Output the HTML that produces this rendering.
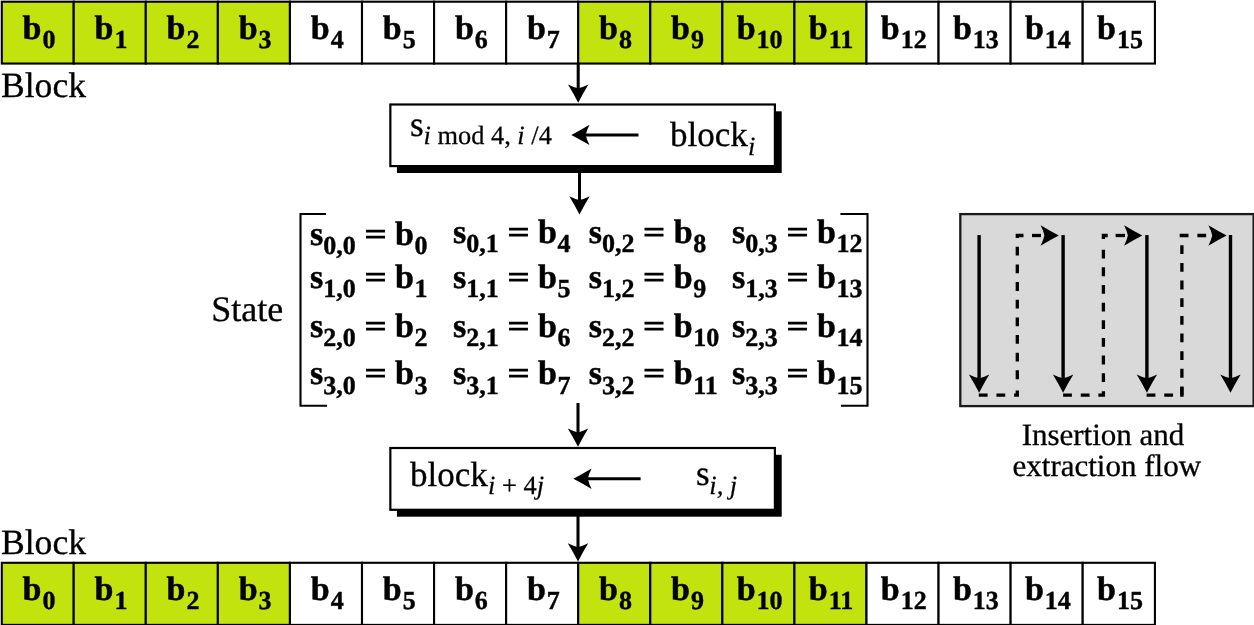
<!DOCTYPE html>
<html><head><meta charset="utf-8"><title>Block to State</title>
<style>
html,body{margin:0;padding:0;background:#fff;}
body{width:1254px;height:625px;overflow:hidden;}
svg{display:block;will-change:transform;}
text{font-family:"Liberation Serif",serif;fill:#000;text-rendering:geometricPrecision;}
.b{font-weight:bold;font-size:34px;stroke:#000;stroke-width:0.5px;}
.bs{font-weight:bold;font-size:26px;stroke:#000;stroke-width:0.4px;}
.eq{font-weight:bold;font-size:30px;stroke:#000;stroke-width:0.7px;}
.r{font-size:36px;stroke:#000;stroke-width:0.3px;}
.r5{font-size:35px;stroke:#000;stroke-width:0.3px;}
.rs{font-size:26.4px;stroke:#000;stroke-width:0.25px;}
.cap{font-size:31px;text-anchor:middle;stroke:#000;stroke-width:0.3px;}
.i{font-style:italic;}
</style></head><body>
<svg width="1254" height="625" viewBox="0 0 1254 625">
<rect x="0" y="0" width="1254" height="625" fill="#fff"/>
<g stroke="#000" stroke-width="2.1">
<rect x="1.80" y="1.7" width="71.92" height="61.85" fill="#c3e30f"/>
<rect x="73.72" y="1.7" width="72.07" height="61.85" fill="#c3e30f"/>
<rect x="145.79" y="1.7" width="72.07" height="61.85" fill="#c3e30f"/>
<rect x="217.86" y="1.7" width="72.07" height="61.85" fill="#c3e30f"/>
<rect x="289.93" y="1.7" width="72.07" height="61.85" fill="#fff"/>
<rect x="362.00" y="1.7" width="72.07" height="61.85" fill="#fff"/>
<rect x="434.07" y="1.7" width="72.07" height="61.85" fill="#fff"/>
<rect x="506.14" y="1.7" width="72.07" height="61.85" fill="#fff"/>
<rect x="578.21" y="1.7" width="72.07" height="61.85" fill="#c3e30f"/>
<rect x="650.28" y="1.7" width="72.07" height="61.85" fill="#c3e30f"/>
<rect x="722.35" y="1.7" width="72.07" height="61.85" fill="#c3e30f"/>
<rect x="794.42" y="1.7" width="72.07" height="61.85" fill="#c3e30f"/>
<rect x="866.49" y="1.7" width="72.07" height="61.85" fill="#fff"/>
<rect x="938.56" y="1.7" width="72.07" height="61.85" fill="#fff"/>
<rect x="1010.63" y="1.7" width="72.07" height="61.85" fill="#fff"/>
<rect x="1082.70" y="1.7" width="72.22" height="61.85" fill="#fff"/>
</g>
<text x="22.48" y="39.3" class="b">b</text><text x="42.38" y="48.20" class="bs">0</text>
<text x="94.55" y="39.3" class="b">b</text><text x="114.45" y="48.20" class="bs">1</text>
<text x="166.62" y="39.3" class="b">b</text><text x="186.53" y="48.20" class="bs">2</text>
<text x="238.69" y="39.3" class="b">b</text><text x="258.59" y="48.20" class="bs">3</text>
<text x="310.77" y="39.3" class="b">b</text><text x="330.67" y="48.20" class="bs">4</text>
<text x="382.83" y="39.3" class="b">b</text><text x="402.73" y="48.20" class="bs">5</text>
<text x="454.91" y="39.3" class="b">b</text><text x="474.81" y="48.20" class="bs">6</text>
<text x="526.97" y="39.3" class="b">b</text><text x="546.87" y="48.20" class="bs">7</text>
<text x="599.04" y="39.3" class="b">b</text><text x="618.94" y="48.20" class="bs">8</text>
<text x="671.11" y="39.3" class="b">b</text><text x="691.01" y="48.20" class="bs">9</text>
<text x="736.68" y="39.3" class="b">b</text><text x="756.58" y="48.20" class="bs">10</text>
<text x="808.75" y="39.3" class="b">b</text><text x="828.65" y="48.20" class="bs">11</text>
<text x="880.82" y="39.3" class="b">b</text><text x="900.72" y="48.20" class="bs">12</text>
<text x="952.89" y="39.3" class="b">b</text><text x="972.79" y="48.20" class="bs">13</text>
<text x="1024.96" y="39.3" class="b">b</text><text x="1044.86" y="48.20" class="bs">14</text>
<text x="1097.03" y="39.3" class="b">b</text><text x="1116.93" y="48.20" class="bs">15</text>
<g stroke="#000" stroke-width="2.1">
<rect x="1.80" y="562.8" width="71.92" height="62.10" fill="#c3e30f"/>
<rect x="73.72" y="562.8" width="72.07" height="62.10" fill="#c3e30f"/>
<rect x="145.79" y="562.8" width="72.07" height="62.10" fill="#c3e30f"/>
<rect x="217.86" y="562.8" width="72.07" height="62.10" fill="#c3e30f"/>
<rect x="289.93" y="562.8" width="72.07" height="62.10" fill="#fff"/>
<rect x="362.00" y="562.8" width="72.07" height="62.10" fill="#fff"/>
<rect x="434.07" y="562.8" width="72.07" height="62.10" fill="#fff"/>
<rect x="506.14" y="562.8" width="72.07" height="62.10" fill="#fff"/>
<rect x="578.21" y="562.8" width="72.07" height="62.10" fill="#c3e30f"/>
<rect x="650.28" y="562.8" width="72.07" height="62.10" fill="#c3e30f"/>
<rect x="722.35" y="562.8" width="72.07" height="62.10" fill="#c3e30f"/>
<rect x="794.42" y="562.8" width="72.07" height="62.10" fill="#c3e30f"/>
<rect x="866.49" y="562.8" width="72.07" height="62.10" fill="#fff"/>
<rect x="938.56" y="562.8" width="72.07" height="62.10" fill="#fff"/>
<rect x="1010.63" y="562.8" width="72.07" height="62.10" fill="#fff"/>
<rect x="1082.70" y="562.8" width="72.22" height="62.10" fill="#fff"/>
</g>
<text x="22.48" y="600.3" class="b">b</text><text x="42.38" y="609.20" class="bs">0</text>
<text x="94.55" y="600.3" class="b">b</text><text x="114.45" y="609.20" class="bs">1</text>
<text x="166.62" y="600.3" class="b">b</text><text x="186.53" y="609.20" class="bs">2</text>
<text x="238.69" y="600.3" class="b">b</text><text x="258.59" y="609.20" class="bs">3</text>
<text x="310.77" y="600.3" class="b">b</text><text x="330.67" y="609.20" class="bs">4</text>
<text x="382.83" y="600.3" class="b">b</text><text x="402.73" y="609.20" class="bs">5</text>
<text x="454.91" y="600.3" class="b">b</text><text x="474.81" y="609.20" class="bs">6</text>
<text x="526.97" y="600.3" class="b">b</text><text x="546.87" y="609.20" class="bs">7</text>
<text x="599.04" y="600.3" class="b">b</text><text x="618.94" y="609.20" class="bs">8</text>
<text x="671.11" y="600.3" class="b">b</text><text x="691.01" y="609.20" class="bs">9</text>
<text x="736.68" y="600.3" class="b">b</text><text x="756.58" y="609.20" class="bs">10</text>
<text x="808.75" y="600.3" class="b">b</text><text x="828.65" y="609.20" class="bs">11</text>
<text x="880.82" y="600.3" class="b">b</text><text x="900.72" y="609.20" class="bs">12</text>
<text x="952.89" y="600.3" class="b">b</text><text x="972.79" y="609.20" class="bs">13</text>
<text x="1024.96" y="600.3" class="b">b</text><text x="1044.86" y="609.20" class="bs">14</text>
<text x="1097.03" y="600.3" class="b">b</text><text x="1116.93" y="609.20" class="bs">15</text>
<text x="1" y="97.3" class="r" style="font-size:35.6px">Block</text>
<text x="1" y="554" class="r" style="font-size:35.6px">Block</text>
<line x1="578.20" y1="63.00" x2="578.20" y2="89.30" stroke="#000" stroke-width="3.05"/>
<path d="M578.20,102.70 Q582.89,93.60 588.40,84.50 Q582.79,87.35 578.20,88.30 Q573.61,87.35 568.00,84.50 Q573.51,93.60 578.20,102.70 Z" fill="#000"/>
<rect x="396.95" y="111.30" width="384.75" height="61.70" fill="#000"/>
<rect x="390.35" y="104.5" width="384.55" height="61.60" fill="#fff" stroke="#000" stroke-width="2.2"/>
<line x1="579.50" y1="172.00" x2="579.50" y2="201.00" stroke="#000" stroke-width="3.05"/>
<path d="M579.50,214.40 Q584.19,205.30 589.70,196.20 Q584.09,199.05 579.50,200.00 Q574.91,199.05 569.30,196.20 Q574.81,205.30 579.50,214.40 Z" fill="#000"/>
<line x1="578.00" y1="403.00" x2="578.00" y2="433.40" stroke="#000" stroke-width="3.05"/>
<path d="M578.00,446.80 Q582.69,437.70 588.20,428.60 Q582.59,431.45 578.00,432.40 Q573.41,431.45 567.80,428.60 Q573.31,437.70 578.00,446.80 Z" fill="#000"/>
<rect x="396.95" y="454.80" width="384.75" height="61.90" fill="#000"/>
<rect x="390.35" y="448.0" width="384.55" height="61.80" fill="#fff" stroke="#000" stroke-width="2.2"/>
<line x1="578.00" y1="516.00" x2="578.00" y2="548.10" stroke="#000" stroke-width="3.05"/>
<path d="M578.00,561.50 Q582.69,552.40 588.20,543.30 Q582.59,546.15 578.00,547.10 Q573.41,546.15 567.80,543.30 Q573.31,552.40 578.00,561.50 Z" fill="#000"/>
<text x="410" y="135.5" class="r5">s</text><text x="423.5" y="144.4" class="rs"><tspan class="i">i</tspan> mod 4, <tspan class="i">i</tspan> /4</text>
<line x1="638.50" y1="134.90" x2="584.70" y2="134.90" stroke="#000" stroke-width="3.05"/>
<path d="M571.30,134.90 Q580.40,139.59 589.50,145.10 Q586.65,139.49 585.70,134.90 Q586.65,130.31 589.50,124.70 Q580.40,130.21 571.30,134.90 Z" fill="#000"/>
<text x="670" y="145.5" class="r5">block</text><text x="748" y="155" class="rs i">i</text>
<text x="410" y="485.6" class="r5">block</text><text x="488" y="494.3" class="rs"><tspan class="i">i</tspan> + 4<tspan class="i">j</tspan></text>
<line x1="640.60" y1="478.70" x2="586.80" y2="478.70" stroke="#000" stroke-width="3.05"/>
<path d="M573.40,478.70 Q582.50,483.39 591.60,488.90 Q588.75,483.29 587.80,478.70 Q588.75,474.11 591.60,468.50 Q582.50,474.01 573.40,478.70 Z" fill="#000"/>
<text x="696" y="485.4" class="r5">s</text><text x="709.3" y="494.3" class="rs i">i, j</text>
<text x="211.2" y="321" class="r">State</text>
<path d="M326,214 H300.5 V405.8 H327" fill="none" stroke="#000" stroke-width="2.1"/>
<path d="M840.4,214 H867.5 V405.8 H841" fill="none" stroke="#000" stroke-width="2.1"/>
<text x="310" y="245" class="b">s</text><text x="323.2" y="254.2" class="bs">0,0</text><text transform="translate(364.4,243.9) scale(1.3,1)" class="eq">=</text><text x="395.0" y="245" class="b">b</text><text x="414.5" y="254.2" class="bs">0</text>
<text x="453" y="242.6" class="b">s</text><text x="466.2" y="251.8" class="bs">0,1</text><text transform="translate(507.4,241.5) scale(1.3,1)" class="eq">=</text><text x="538.0" y="242.6" class="b">b</text><text x="557.5" y="251.8" class="bs">4</text>
<text x="588.7" y="242.6" class="b">s</text><text x="601.9" y="251.8" class="bs">0,2</text><text transform="translate(643.1,241.5) scale(1.3,1)" class="eq">=</text><text x="673.7" y="242.6" class="b">b</text><text x="693.2" y="251.8" class="bs">8</text>
<text x="732" y="242.6" class="b">s</text><text x="745.2" y="251.8" class="bs">0,3</text><text transform="translate(786.4,241.5) scale(1.3,1)" class="eq">=</text><text x="817.0" y="242.6" class="b">b</text><text x="836.5" y="251.8" class="bs">12</text>
<text x="310" y="288.2" class="b">s</text><text x="323.2" y="297.4" class="bs">1,0</text><text transform="translate(364.4,287.1) scale(1.3,1)" class="eq">=</text><text x="395.0" y="288.2" class="b">b</text><text x="414.5" y="297.4" class="bs">1</text>
<text x="453" y="288.2" class="b">s</text><text x="466.2" y="297.4" class="bs">1,1</text><text transform="translate(507.4,287.1) scale(1.3,1)" class="eq">=</text><text x="538.0" y="288.2" class="b">b</text><text x="557.5" y="297.4" class="bs">5</text>
<text x="588.7" y="288.2" class="b">s</text><text x="601.9" y="297.4" class="bs">1,2</text><text transform="translate(643.1,287.1) scale(1.3,1)" class="eq">=</text><text x="673.7" y="288.2" class="b">b</text><text x="693.2" y="297.4" class="bs">9</text>
<text x="732" y="288.2" class="b">s</text><text x="745.2" y="297.4" class="bs">1,3</text><text transform="translate(786.4,287.1) scale(1.3,1)" class="eq">=</text><text x="817.0" y="288.2" class="b">b</text><text x="836.5" y="297.4" class="bs">13</text>
<text x="310" y="336.6" class="b">s</text><text x="323.2" y="345.8" class="bs">2,0</text><text transform="translate(364.4,335.5) scale(1.3,1)" class="eq">=</text><text x="395.0" y="336.6" class="b">b</text><text x="414.5" y="345.8" class="bs">2</text>
<text x="453" y="336.6" class="b">s</text><text x="466.2" y="345.8" class="bs">2,1</text><text transform="translate(507.4,335.5) scale(1.3,1)" class="eq">=</text><text x="538.0" y="336.6" class="b">b</text><text x="557.5" y="345.8" class="bs">6</text>
<text x="588.7" y="336.6" class="b">s</text><text x="601.9" y="345.8" class="bs">2,2</text><text transform="translate(643.1,335.5) scale(1.3,1)" class="eq">=</text><text x="673.7" y="336.6" class="b">b</text><text x="693.2" y="345.8" class="bs">10</text>
<text x="732" y="336.6" class="b">s</text><text x="745.2" y="345.8" class="bs">2,3</text><text transform="translate(786.4,335.5) scale(1.3,1)" class="eq">=</text><text x="817.0" y="336.6" class="b">b</text><text x="836.5" y="345.8" class="bs">14</text>
<text x="310" y="384.4" class="b">s</text><text x="323.2" y="393.6" class="bs">3,0</text><text transform="translate(364.4,383.3) scale(1.3,1)" class="eq">=</text><text x="395.0" y="384.4" class="b">b</text><text x="414.5" y="393.6" class="bs">3</text>
<text x="453" y="384.4" class="b">s</text><text x="466.2" y="393.6" class="bs">3,1</text><text transform="translate(507.4,383.3) scale(1.3,1)" class="eq">=</text><text x="538.0" y="384.4" class="b">b</text><text x="557.5" y="393.6" class="bs">7</text>
<text x="588.7" y="384.4" class="b">s</text><text x="601.9" y="393.6" class="bs">3,2</text><text transform="translate(643.1,383.3) scale(1.3,1)" class="eq">=</text><text x="673.7" y="384.4" class="b">b</text><text x="693.2" y="393.6" class="bs">11</text>
<text x="732" y="384.4" class="b">s</text><text x="745.2" y="393.6" class="bs">3,3</text><text transform="translate(786.4,383.3) scale(1.3,1)" class="eq">=</text><text x="817.0" y="384.4" class="b">b</text><text x="836.5" y="393.6" class="bs">15</text>
<rect x="960.3" y="214.1" width="293.3" height="192.0" fill="#d9d9d9" stroke="#1a1a1a" stroke-width="2.3"/>
<line x1="979.10" y1="235.10" x2="979.10" y2="379.30" stroke="#000" stroke-width="3.4"/>
<path d="M979.10,392.70 Q983.79,383.60 989.30,374.50 Q983.69,377.35 979.10,378.30 Q974.51,377.35 968.90,374.50 Q974.41,383.60 979.10,392.70 Z" fill="#000"/>
<line x1="1063.10" y1="235.10" x2="1063.10" y2="379.30" stroke="#000" stroke-width="3.4"/>
<path d="M1063.10,392.70 Q1067.79,383.60 1073.30,374.50 Q1067.69,377.35 1063.10,378.30 Q1058.51,377.35 1052.90,374.50 Q1058.41,383.60 1063.10,392.70 Z" fill="#000"/>
<line x1="1146.90" y1="235.10" x2="1146.90" y2="379.30" stroke="#000" stroke-width="3.4"/>
<path d="M1146.90,392.70 Q1151.59,383.60 1157.10,374.50 Q1151.49,377.35 1146.90,378.30 Q1142.31,377.35 1136.70,374.50 Q1142.21,383.60 1146.90,392.70 Z" fill="#000"/>
<line x1="1230.50" y1="235.10" x2="1230.50" y2="379.30" stroke="#000" stroke-width="3.4"/>
<path d="M1230.50,392.70 Q1235.19,383.60 1240.70,374.50 Q1235.09,377.35 1230.50,378.30 Q1225.91,377.35 1220.30,374.50 Q1225.81,383.60 1230.50,392.70 Z" fill="#000"/>
<line x1="978.80" y1="395.10" x2="1005.60" y2="395.10" stroke="#000" stroke-width="3.3" stroke-dasharray="8.8 8.85"/>
<path d="M1014.1,395.1 H1017.3 V390.5" fill="none" stroke="#000" stroke-width="3.3"/>
<line x1="1017.30" y1="246.80" x2="1017.30" y2="382.00" stroke="#000" stroke-width="3.3" stroke-dasharray="8.8 8.85"/>
<path d="M1017.3,238.1 V235.5 H1023.5" fill="none" stroke="#000" stroke-width="3.3"/>
<line x1="1032.00" y1="235.50" x2="1041.00" y2="235.50" stroke="#000" stroke-width="3.3"/>
<path d="M1058.80,235.50 Q1049.70,230.81 1040.60,225.30 Q1043.45,230.91 1044.40,235.50 Q1043.45,240.09 1040.60,245.70 Q1049.70,240.19 1058.80,235.50 Z" fill="#000"/>
<line x1="1063.10" y1="395.10" x2="1089.60" y2="395.10" stroke="#000" stroke-width="3.3" stroke-dasharray="8.8 8.85"/>
<path d="M1098.4,395.1 H1103.4 V391.2" fill="none" stroke="#000" stroke-width="3.3"/>
<line x1="1103.40" y1="249.70" x2="1103.40" y2="383.00" stroke="#000" stroke-width="3.3" stroke-dasharray="8.8 8.85"/>
<path d="M1103.4,238.9 V235.5 H1107.7" fill="none" stroke="#000" stroke-width="3.3"/>
<line x1="1115.60" y1="235.50" x2="1125.00" y2="235.50" stroke="#000" stroke-width="3.3"/>
<path d="M1142.30,235.50 Q1133.20,230.81 1124.10,225.30 Q1126.95,230.91 1127.90,235.50 Q1126.95,240.09 1124.10,245.70 Q1133.20,240.19 1142.30,235.50 Z" fill="#000"/>
<line x1="1146.60" y1="395.10" x2="1173.30" y2="395.10" stroke="#000" stroke-width="3.3" stroke-dasharray="8.8 8.85"/>
<line x1="1181.90" y1="245.30" x2="1181.90" y2="396.60" stroke="#000" stroke-width="3.3" stroke-dasharray="8.8 8.85"/>
<line x1="1181.90" y1="387.00" x2="1181.90" y2="396.80" stroke="#000" stroke-width="3.3"/>
<line x1="1179.70" y1="235.50" x2="1207.80" y2="235.50" stroke="#000" stroke-width="3.3" stroke-dasharray="8.8 8.85"/>
<path d="M1226.60,235.50 Q1217.50,230.81 1208.40,225.30 Q1211.25,230.91 1212.20,235.50 Q1211.25,240.09 1208.40,245.70 Q1217.50,240.19 1226.60,235.50 Z" fill="#000"/>
<text x="1103" y="444.8" class="cap">Insertion and</text>
<text x="1106.8" y="475.9" class="cap">extraction flow</text>
</svg>
</body></html>
